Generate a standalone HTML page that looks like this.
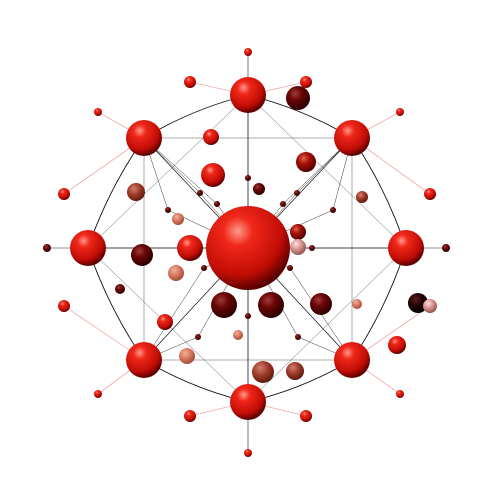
<!DOCTYPE html>
<html><head><meta charset="utf-8"><style>
html,body{margin:0;padding:0;background:#fff;width:500px;height:500px;overflow:hidden}
svg{display:block}
</style></head><body>
<svg id="chart" width="500" height="500" viewBox="0 0 500 500" xmlns="http://www.w3.org/2000/svg">
<defs>
<radialGradient id="gRed" cx="0.38" cy="0.3" r="0.7"><stop offset="0" stop-color="#ff9a8a"/><stop offset="0.25" stop-color="#f0281a"/><stop offset="0.75" stop-color="#c00c05"/><stop offset="1" stop-color="#5a0000"/></radialGradient>
<radialGradient id="gDark" cx="0.38" cy="0.32" r="0.7"><stop offset="0" stop-color="#a03a3a"/><stop offset="0.4" stop-color="#6a0606"/><stop offset="1" stop-color="#2a0000"/></radialGradient>
<radialGradient id="gDred" cx="0.38" cy="0.32" r="0.7"><stop offset="0" stop-color="#e06050"/><stop offset="0.4" stop-color="#a81008"/><stop offset="1" stop-color="#500000"/></radialGradient>
<radialGradient id="gSal" cx="0.38" cy="0.32" r="0.7"><stop offset="0" stop-color="#f0b0a0"/><stop offset="0.5" stop-color="#d87860"/><stop offset="1" stop-color="#a04838"/></radialGradient>
<radialGradient id="gBrown" cx="0.38" cy="0.32" r="0.7"><stop offset="0" stop-color="#d08070"/><stop offset="0.5" stop-color="#a03a28"/><stop offset="1" stop-color="#5a1a10"/></radialGradient>
<radialGradient id="gBlack" cx="0.38" cy="0.32" r="0.7"><stop offset="0" stop-color="#5a2020"/><stop offset="0.5" stop-color="#200000"/><stop offset="1" stop-color="#000"/></radialGradient>
<radialGradient id="gPink" cx="0.38" cy="0.32" r="0.7"><stop offset="0" stop-color="#ffe0e0"/><stop offset="0.5" stop-color="#d89090"/><stop offset="1" stop-color="#905050"/></radialGradient>
</defs>
<g id="edges"></g><g id="nodes"></g>
</svg>
<script>
var ringX=[248,352,406,352,248,144,88,144];
var ringY=[95,138,248,360,402,360,248,138];
var outerX=[248,190,306,98,400,64,430,47,446,64,430,98,400,190,306,248];
var outerY=[52,82,82,112,112,194,194,248,248,306,306,394,394,416,416,453];
var outerR=[4,6,6,4,4,6,6,4,4,6,6,4,4,6,6,4];
var outerParent=[0,0,0,7,1,7,1,6,2,5,3,5,3,4,4,4];
var innerX=[200,297,217,283,168,333,204,290,198,298,248,312,186,248];
var innerY=[193,193,204,204,210,210,268,268,337,337,316,248,248,178];
var floatX=[298,211,213,306,136,259,362,178,190,142,176,120,224,271,321,165,238,357,418,430,397,187,263,295,298,298];
var floatY=[98,137,175,162,192,189,197,219,248,255,273,289,305,305,304,322,335,304,303,306,345,356,372,371,232,247];
var floatR=[12,8,12,10,9,6,6,6,13,11,8,5,13,13,11,8,5,5,10,7,9,8,11,9,8,8];
var floatC=["gDark","gRed","gRed","gDred","gBrown","gDark","gBrown","gSal","gRed","gDark","gSal","gDark","gDark","gDark","gDark","gRed","gSal","gSal","gBlack","gPink","gRed","gSal","gBrown","gBrown","gDred","gPink"];
var NS="http://www.w3.org/2000/svg";
var E=document.getElementById('edges'),N=document.getElementById('nodes');
function line(x1,y1,x2,y2,c,w){var l=document.createElementNS(NS,'line');
l.setAttribute('x1',x1);l.setAttribute('y1',y1);l.setAttribute('x2',x2);l.setAttribute('y2',y2);
l.setAttribute('stroke',c);l.setAttribute('stroke-width',w);


E.appendChild(l);}
function ball(x,y,r,g,name){var c=document.createElementNS(NS,'circle');
c.setAttribute('cx',x);c.setAttribute('cy',y);c.setAttribute('r',r);c.setAttribute('fill','url(#'+g+')');


N.appendChild(c);}
var cx=248,cy=248;
for(var i=0;i<8;i++){var j=(i+1)%8;
 var p=document.createElementNS(NS,'path');
 var mx=(ringX[i]+ringX[j])/2,my=(ringY[i]+ringY[j])/2;
 var qx=cx+(mx-cx)*1.06,qy=cy+(my-cy)*1.06;
 p.setAttribute('d','M'+ringX[i]+','+ringY[i]+' Q'+qx+','+qy+' '+ringX[j]+','+ringY[j]);
 p.setAttribute('fill','none');p.setAttribute('stroke','#111');p.setAttribute('stroke-width',0.9);
 
 
 E.appendChild(p);
 line(cx,cy,ringX[i],ringY[i],'#111',0.7);
 line(ringX[i],ringY[i],ringX[(i+2)%8],ringY[(i+2)%8],'#333',0.4);
}
for(var i=0;i<outerX.length;i++){var p=outerParent[i];
 var col=(i===0||i===7||i===8||i===15)?'#222':'#e88';
 line(outerX[i],outerY[i],ringX[p],ringY[p],col,0.6);}
for(var i=0;i<innerX.length;i++){line(cx,cy,innerX[i],innerY[i],'#333',0.5);
 var best=0,bd=1e9;for(var j=0;j<8;j++){var d=Math.hypot(ringX[j]-innerX[i],ringY[j]-innerY[i]);if(d<bd){bd=d;best=j;}}
 line(innerX[i],innerY[i],ringX[best],ringY[best],'#333',0.5);}
for(var i=0;i<outerX.length;i++)ball(outerX[i],outerY[i],outerR[i],(i===7||i===8)?'gDark':'gRed','outer-node');
for(var i=0;i<innerX.length;i++)ball(innerX[i],innerY[i],3,'gDark','inner-node');
for(var i=0;i<floatX.length;i++)ball(floatX[i],floatY[i],floatR[i],floatC[i],'floating-sphere');
for(var i=0;i<8;i++)ball(ringX[i],ringY[i],18,'gRed','ring-node');
ball(cx,cy,42,'gRed','center-node');
</script>
</body></html>
